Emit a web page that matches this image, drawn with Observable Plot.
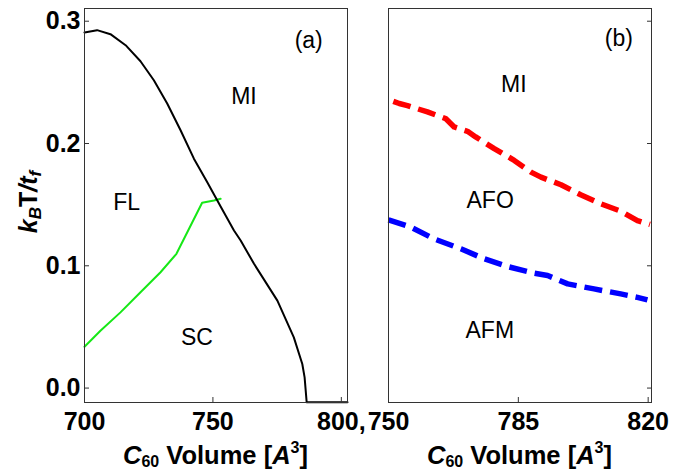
<!DOCTYPE html>
<html>
<head>
<meta charset="utf-8">
<script src="https://cdn.jsdelivr.net/npm/d3@7"></script>
<script src="https://cdn.jsdelivr.net/npm/@observablehq/plot@0.6"></script>
<style>
  html, body { margin: 0; padding: 0; background: #fff; }
  #wrap { position: relative; width: 681px; height: 471px; overflow: hidden; background: #fff; }
  #wrap svg { position: absolute; top: 0; overflow: visible; }
</style>
</head>
<body>
<div id="wrap"></div>
<script>
// ---------- data ----------
const yTicks = [0, 0.1, 0.2, 0.3];
const xTicksA = [700, 750, 800];
const xTicksB = [750, 785, 820];

// panel (a): MI boundary (black)
const blackX = [700, 704.9, 710.1, 716, 721.8, 727, 732.2, 737.4, 742.6, 747.8, 753, 758.2, 760.8, 766, 775.1, 781.5, 784.8, 785.7, 786.5, 802.4];
const blackY = [0.2908, 0.2927, 0.2894, 0.2804, 0.2673, 0.2517, 0.2327, 0.2108, 0.1876, 0.1684, 0.1485, 0.1289, 0.1207, 0.1016, 0.0715, 0.0415, 0.0197, 0.0087, -0.0115, -0.0115];
// panel (a): SC boundary (green)
const greenX = [700, 706.2, 714, 721.8, 729.6, 735.8, 745.8, 750.4, 753];
const greenY = [0.0338, 0.0469, 0.0619, 0.0783, 0.0947, 0.1098, 0.1516, 0.1534, 0.1548];
// panel (b): MI/AFO boundary (red dashed)
const redX = [751.3, 752.9, 755.1, 760.5, 765.4, 767.7, 771.3, 773.5, 778.5, 783.9, 788.4, 791.1, 796.5, 801.8, 807.2, 812.6, 817.1, 820.5];
const redY = [0.2345, 0.2327, 0.231, 0.2258, 0.2204, 0.2135, 0.21, 0.2054, 0.1958, 0.1862, 0.1766, 0.1725, 0.1663, 0.1581, 0.1507, 0.1447, 0.137, 0.1338];
// panel (b): AFO/AFM boundary (blue dashed)
const blueX = [750, 756, 762.3, 769.5, 775.8, 782.1, 789.3, 792.9, 798.3, 805.4, 812.6, 817.1, 819.8];
const blueY = [0.1376, 0.1316, 0.122, 0.1139, 0.1057, 0.0994, 0.0939, 0.092, 0.0852, 0.0811, 0.077, 0.0742, 0.0721];

// region labels
const labelsA = ["(a)", "MI", "FL", "SC"];
const labelAX = [787.3, 762.1, 716.4, 743.8];
const labelAY = [0.2845, 0.238, 0.152, 0.0416];
const labelsB = ["(b)", "MI", "AFO", "AFM"];
const labelBX = [812.1, 783.8, 777.4, 777.3];
const labelBY = [0.286, 0.2485, 0.153, 0.047];

// ---------- helpers ----------
const zip = (xs, ys) => xs.map((x, i) => ({x, y: ys[i]}));
const lab = (ts, xs, ys) => ts.map((t, i) => ({t, x: xs[i], y: ys[i]}));
const FONT = "Liberation Sans, Arial, sans-serif";
const yDomain = [-0.0118, 0.3104];
const frameColor = "#333";
const blank = () => "";

// ---------- panel (a) ----------
const plotA = Plot.plot({
  width: 360, height: 471,
  marginLeft: 84, marginRight: 13, marginTop: 8, marginBottom: 69,
  style: {fontFamily: FONT, background: "transparent"},
  x: {domain: [700, 802.4]},
  y: {domain: yDomain},
  marks: [
    Plot.line(zip(greenX, greenY), {x: "x", y: "y", stroke: "#16e816", strokeWidth: 2}),
    Plot.line(zip(blackX, blackY), {x: "x", y: "y", stroke: "#000", strokeWidth: 2}),
    Plot.text(lab(labelsA, labelAX, labelAY), {x: "x", y: "y", text: "t", fontSize: 23, fill: "#000"}),
    Plot.frame({stroke: frameColor}),
    Plot.axisX({ticks: xTicksA, tickSize: 5, dy: -5, stroke: frameColor, tickFormat: blank, label: null}),
    Plot.axisX({ticks: xTicksA, tickSize: 0, tickPadding: 10, fontSize: 25, fontWeight: "bold", fill: "#000",
                tickFormat: d => d === 800 ? "800," : String(d), label: null}),
    Plot.axisY({ticks: yTicks, anchor: "left", tickSize: 5, dx: 5, stroke: frameColor, tickFormat: blank, label: null}),
    Plot.axisY({ticks: yTicks, anchor: "left", tickSize: 0, tickPadding: 4, fontSize: 25, fontWeight: "bold", fill: "#000",
                tickFormat: d3.format(".1f"), label: null})
  ]
});

// ---------- panel (b) ----------
const plotB = Plot.plot({
  width: 321, height: 471,
  marginLeft: 28, marginRight: 30, marginTop: 8, marginBottom: 69,
  style: {fontFamily: FONT, background: "transparent"},
  x: {domain: [750, 820.9]},
  y: {domain: yDomain},
  marks: [
    Plot.line(zip(redX, redY), {x: "x", y: "y", stroke: "#ff0000", strokeWidth: 5.5, strokeDasharray: "18,8", strokeLinecap: "butt"}),
    Plot.line(zip(blueX, blueY), {x: "x", y: "y", stroke: "#0000ff", strokeWidth: 5.5, strokeDasharray: "18,8", strokeLinecap: "butt"}),
    Plot.text(lab(labelsB, labelBX, labelBY), {x: "x", y: "y", text: "t", fontSize: 23, fill: "#000"}),
    Plot.frame({stroke: frameColor}),
    Plot.axisX({ticks: xTicksB, tickSize: 5, dy: -5, stroke: frameColor, tickFormat: blank, label: null}),
    Plot.axisX({ticks: xTicksB, tickSize: 0, tickPadding: 10, fontSize: 25, fontWeight: "bold", fill: "#000", label: null}),
    Plot.axisY({ticks: yTicks, anchor: "right", tickSize: 5, dx: -5, stroke: frameColor, tickFormat: blank, label: null})
  ]
});

const wrap = document.getElementById("wrap");
plotA.style.left = "0px";
plotB.style.left = "360px";
wrap.appendChild(plotA);
wrap.appendChild(plotB);

// ---------- axis titles with sub/superscripts ----------
function xTitle(svg, cx) {
  const t = d3.select(svg).append("text")
    .attr("x", cx).attr("y", 464)
    .attr("text-anchor", "middle")
    .attr("font-family", FONT).attr("font-size", 25.5).attr("font-weight", "bold").attr("fill", "#000");
  t.append("tspan").attr("font-style", "italic").text("C");
  t.append("tspan").attr("font-size", 16).attr("dy", 3).text("60");
  t.append("tspan").attr("dy", -3).text(" Volume [");
  t.append("tspan").attr("font-style", "italic").text("A");
  t.append("tspan").attr("font-size", 16).attr("dy", -11).text("3");
  t.append("tspan").attr("dy", 11).text("]");
}
xTitle(plotA, (84 + 347) / 2);
xTitle(plotB, 28 + (321 - 28 - 30) / 2);

(function yTitle(svg) {
  const t = d3.select(svg).append("text")
    .attr("transform", "translate(37,202) rotate(-90)")
    .attr("text-anchor", "middle")
    .attr("font-family", FONT).attr("font-size", 25).attr("font-weight", "bold").attr("fill", "#000");
  t.append("tspan").attr("font-style", "italic").text("k");
  t.append("tspan").attr("font-style", "italic").attr("font-size", 17).attr("dy", 4).text("B");
  t.append("tspan").attr("dy", -4).text("T");
  t.append("tspan").attr("font-style", "italic").text("/t");
  t.append("tspan").attr("font-style", "italic").attr("font-size", 17).attr("dy", 4).text("f");
})(plotA);
</script>
</body>
</html>
